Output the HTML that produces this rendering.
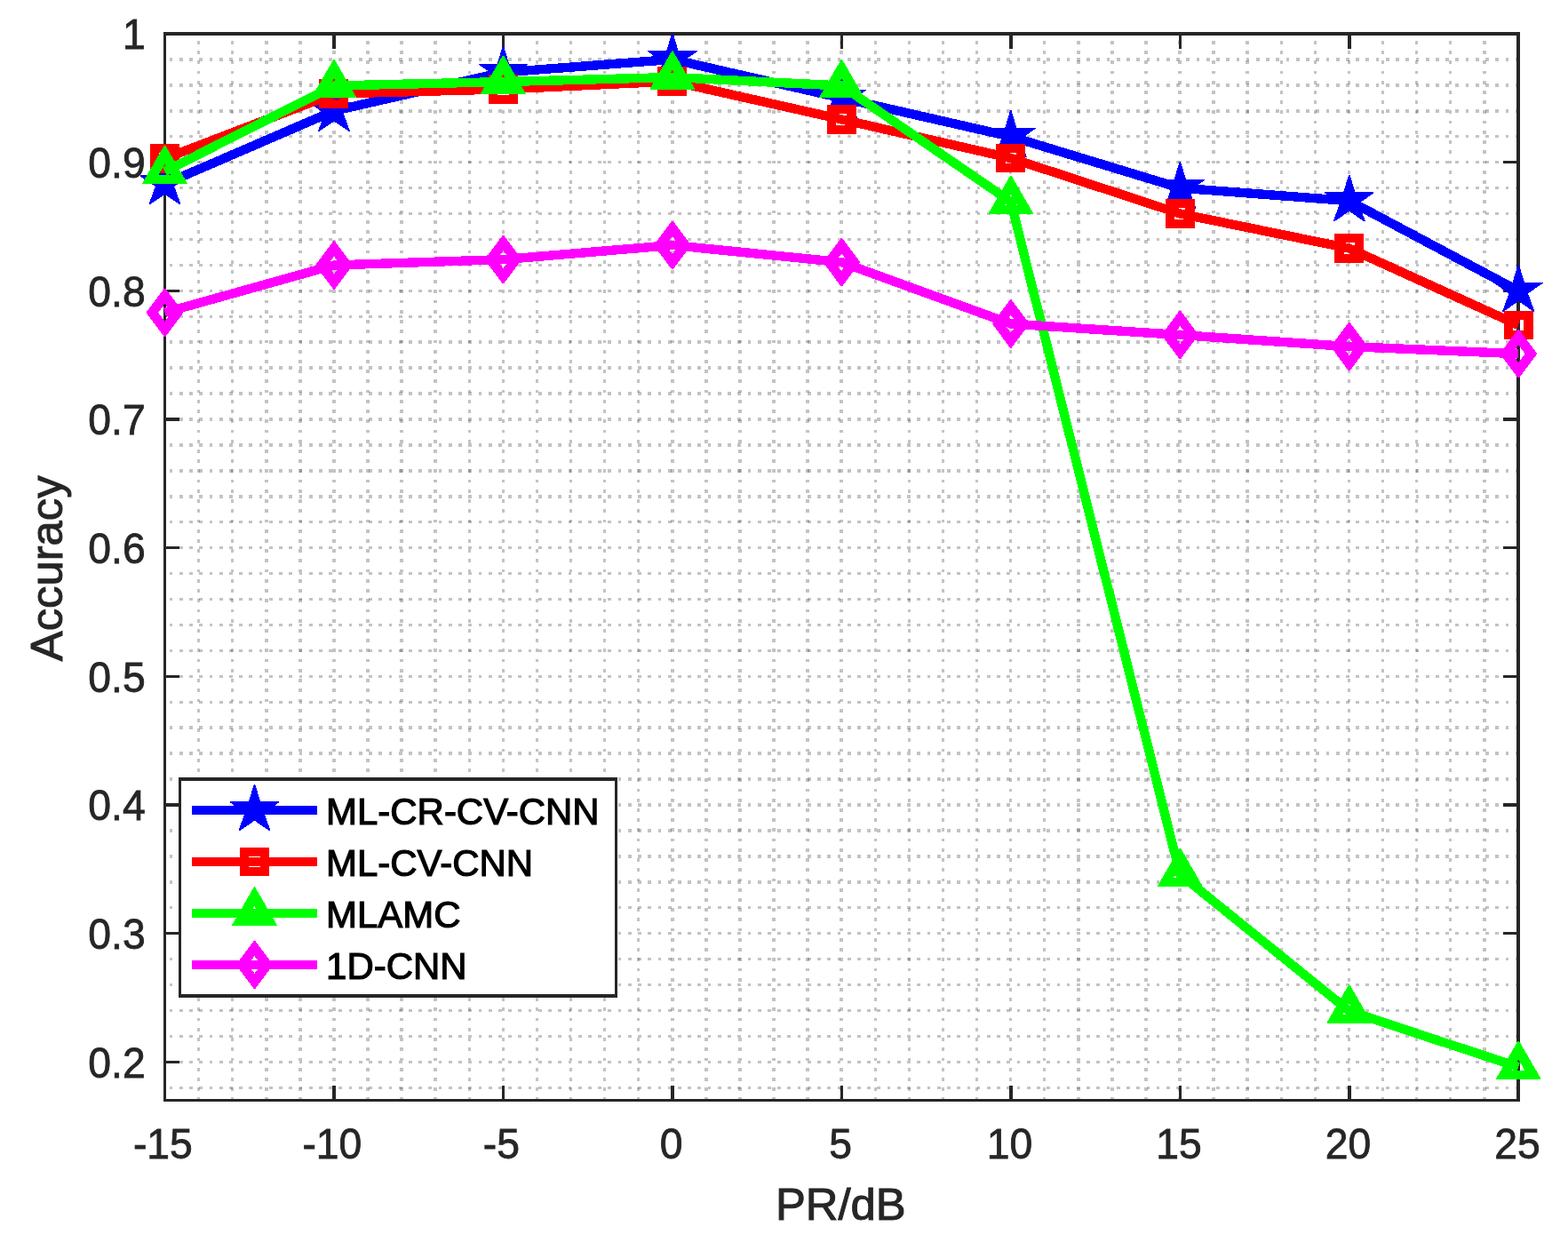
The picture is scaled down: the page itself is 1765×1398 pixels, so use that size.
<!DOCTYPE html>
<html lang="en"><head><meta charset="utf-8"><title>Accuracy vs PR/dB</title>
<style>
html,body{margin:0;padding:0;background:#fff;}
body{width:1765px;height:1398px;overflow:hidden;}
svg{display:block;}
text{font-family:"Liberation Sans",sans-serif;}
text{stroke-linejoin:miter;}
.tick{font-size:46.3px;fill:#262626;stroke:#262626;stroke-width:0.8px;}
.lab{font-size:50.8px;fill:#262626;stroke:#262626;stroke-width:1.0px;}
.leg{font-size:41.95px;fill:#000;stroke:#000;stroke-width:1.2px;}
</style></head><body>
<svg width="1765" height="1398" viewBox="0 0 1765 1398" role="img" aria-label="Accuracy versus PR/dB line chart">
<rect x="0" y="0" width="1765" height="1398" fill="#ffffff"/>
<g stroke="#262626" stroke-opacity="0.28" stroke-width="3.5" fill="none" shape-rendering="crispEdges" stroke-dasharray="3.77 7.4525">
<path d="M223.58 45.90V1238.50M261.67 45.90V1238.50M299.75 45.90V1238.50M337.84 45.90V1238.50M375.92 45.90V1238.50M414.01 45.90V1238.50M452.09 45.90V1238.50M490.18 45.90V1238.50M528.26 45.90V1238.50M566.35 45.90V1238.50M604.43 45.90V1238.50M642.51 45.90V1238.50M680.60 45.90V1238.50M718.68 45.90V1238.50M756.77 45.90V1238.50M794.85 45.90V1238.50M832.94 45.90V1238.50M871.02 45.90V1238.50M909.11 45.90V1238.50M947.19 45.90V1238.50M985.27 45.90V1238.50M1023.36 45.90V1238.50M1061.44 45.90V1238.50M1099.53 45.90V1238.50M1137.61 45.90V1238.50M1175.70 45.90V1238.50M1213.78 45.90V1238.50M1251.87 45.90V1238.50M1289.95 45.90V1238.50M1328.03 45.90V1238.50M1366.12 45.90V1238.50M1404.20 45.90V1238.50M1442.29 45.90V1238.50M1480.37 45.90V1238.50M1518.46 45.90V1238.50M1556.54 45.90V1238.50M1594.63 45.90V1238.50M1632.71 45.90V1238.50M1670.80 45.90V1238.50"/>
<path d="M190.70 66.93H1709.25M190.70 95.87H1709.25M190.70 124.80H1709.25M190.70 153.73H1709.25M190.70 182.67H1709.25M190.70 211.60H1709.25M190.70 240.54H1709.25M190.70 269.47H1709.25M190.70 298.40H1709.25M190.70 327.34H1709.25M190.70 356.27H1709.25M190.70 385.20H1709.25M190.70 414.14H1709.25M190.70 443.07H1709.25M190.70 472.00H1709.25M190.70 500.94H1709.25M190.70 529.87H1709.25M190.70 558.80H1709.25M190.70 587.74H1709.25M190.70 616.67H1709.25M190.70 645.61H1709.25M190.70 674.54H1709.25M190.70 703.47H1709.25M190.70 732.41H1709.25M190.70 761.34H1709.25M190.70 790.27H1709.25M190.70 819.21H1709.25M190.70 848.14H1709.25M190.70 877.07H1709.25M190.70 906.01H1709.25M190.70 934.94H1709.25M190.70 963.88H1709.25M190.70 992.81H1709.25M190.70 1021.74H1709.25M190.70 1050.68H1709.25M190.70 1079.61H1709.25M190.70 1108.54H1709.25M190.70 1137.48H1709.25M190.70 1166.41H1709.25M190.70 1195.34H1709.25M190.70 1224.28H1709.25"/>
</g>
<g fill="#262626" shape-rendering="crispEdges">
<rect x="184" y="36" width="3" height="1204"/>
<rect x="1707" y="36" width="4" height="1204"/>
<rect x="184" y="36" width="1527" height="4"/>
<rect x="184" y="1237" width="1527" height="3"/>
<rect x="374" y="40" width="4" height="15"/>
<rect x="374" y="1222" width="4" height="15"/>
<rect x="565" y="40" width="3" height="15"/>
<rect x="565" y="1222" width="3" height="15"/>
<rect x="755" y="40" width="4" height="15"/>
<rect x="755" y="1222" width="4" height="15"/>
<rect x="946" y="40" width="3" height="15"/>
<rect x="946" y="1222" width="3" height="15"/>
<rect x="1136" y="40" width="4" height="15"/>
<rect x="1136" y="1222" width="4" height="15"/>
<rect x="1327" y="40" width="3" height="15"/>
<rect x="1327" y="1222" width="3" height="15"/>
<rect x="1517" y="40" width="4" height="15"/>
<rect x="1517" y="1222" width="4" height="15"/>
<rect x="187" y="1194" width="15" height="3"/>
<rect x="1692" y="1194" width="15" height="3"/>
<rect x="187" y="1049" width="15" height="3"/>
<rect x="1692" y="1049" width="15" height="3"/>
<rect x="187" y="904" width="15" height="4"/>
<rect x="1692" y="904" width="15" height="4"/>
<rect x="187" y="760" width="15" height="3"/>
<rect x="1692" y="760" width="15" height="3"/>
<rect x="187" y="615" width="15" height="3"/>
<rect x="1692" y="615" width="15" height="3"/>
<rect x="187" y="470" width="15" height="4"/>
<rect x="1692" y="470" width="15" height="4"/>
<rect x="187" y="326" width="15" height="3"/>
<rect x="1692" y="326" width="15" height="3"/>
<rect x="187" y="181" width="15" height="3"/>
<rect x="1692" y="181" width="15" height="3"/>
</g>
<g shape-rendering="crispEdges">
<polyline points="185.50,207.10 375.97,124.80 566.44,81.40 756.91,66.90 947.38,110.30 1137.84,153.75 1328.31,211.60 1518.78,226.10 1709.25,327.40" fill="none" stroke="#0000ff" stroke-width="10.4" stroke-linejoin="round" stroke-linecap="butt"/>
<path d="M184.80 177.70 L186.20 177.70 L192.10 197.30 L213.20 197.30 L213.20 198.40 L196.30 210.00 L203.60 230.20 L202.10 230.20 L185.50 218.90 L168.90 230.20 L167.40 230.20 L174.70 210.00 L157.80 198.40 L157.80 197.30 L178.90 197.30 Z" fill="#0000ff" fill-rule="evenodd"/>
<path d="M375.27 95.40 L376.67 95.40 L382.57 115.00 L403.67 115.00 L403.67 116.10 L386.77 127.70 L394.07 147.90 L392.57 147.90 L375.97 136.60 L359.37 147.90 L357.87 147.90 L365.17 127.70 L348.27 116.10 L348.27 115.00 L369.37 115.00 Z" fill="#0000ff" fill-rule="evenodd"/>
<path d="M565.74 52.00 L567.14 52.00 L573.04 71.60 L594.14 71.60 L594.14 72.70 L577.24 84.30 L584.54 104.50 L583.04 104.50 L566.44 93.20 L549.84 104.50 L548.34 104.50 L555.64 84.30 L538.74 72.70 L538.74 71.60 L559.84 71.60 Z" fill="#0000ff" fill-rule="evenodd"/>
<path d="M756.21 37.50 L757.61 37.50 L763.51 57.10 L784.61 57.10 L784.61 58.20 L767.71 69.80 L775.01 90.00 L773.51 90.00 L756.91 78.70 L740.31 90.00 L738.81 90.00 L746.11 69.80 L729.21 58.20 L729.21 57.10 L750.31 57.10 Z" fill="#0000ff" fill-rule="evenodd"/>
<path d="M946.67 80.90 L948.08 80.90 L953.98 100.50 L975.08 100.50 L975.08 101.60 L958.17 113.20 L965.48 133.40 L963.98 133.40 L947.38 122.10 L930.77 133.40 L929.27 133.40 L936.58 113.20 L919.67 101.60 L919.67 100.50 L940.77 100.50 Z" fill="#0000ff" fill-rule="evenodd"/>
<path d="M1137.14 124.35 L1138.54 124.35 L1144.44 143.95 L1165.54 143.95 L1165.54 145.05 L1148.64 156.65 L1155.94 176.85 L1154.44 176.85 L1137.84 165.55 L1121.24 176.85 L1119.74 176.85 L1127.04 156.65 L1110.14 145.05 L1110.14 143.95 L1131.24 143.95 Z" fill="#0000ff" fill-rule="evenodd"/>
<path d="M1327.61 182.20 L1329.01 182.20 L1334.91 201.80 L1356.01 201.80 L1356.01 202.90 L1339.11 214.50 L1346.41 234.70 L1344.91 234.70 L1328.31 223.40 L1311.71 234.70 L1310.21 234.70 L1317.51 214.50 L1300.61 202.90 L1300.61 201.80 L1321.71 201.80 Z" fill="#0000ff" fill-rule="evenodd"/>
<path d="M1518.08 196.70 L1519.48 196.70 L1525.38 216.30 L1546.48 216.30 L1546.48 217.40 L1529.58 229.00 L1536.88 249.20 L1535.38 249.20 L1518.78 237.90 L1502.18 249.20 L1500.68 249.20 L1507.98 229.00 L1491.08 217.40 L1491.08 216.30 L1512.18 216.30 Z" fill="#0000ff" fill-rule="evenodd"/>
<path d="M1708.55 298.00 L1709.95 298.00 L1715.85 317.60 L1736.95 317.60 L1736.95 318.70 L1720.05 330.30 L1727.35 350.50 L1725.85 350.50 L1709.25 339.20 L1692.65 350.50 L1691.15 350.50 L1698.45 330.30 L1681.55 318.70 L1681.55 317.60 L1702.65 317.60 Z" fill="#0000ff" fill-rule="evenodd"/>
<polyline points="185.50,178.50 375.97,105.50 566.44,100.45 756.91,91.50 947.38,134.40 1137.84,178.00 1328.31,240.50 1518.78,279.55 1709.25,366.00" fill="none" stroke="#ff0000" stroke-width="10.4" stroke-linejoin="round" stroke-linecap="butt"/>
<path d="M169.00 162.05 L202.00 162.05 L202.00 194.95 L169.00 194.95 Z M179.40 172.40 L179.40 184.60 L191.60 184.60 L191.60 172.40 Z" fill="#ff0000" fill-rule="evenodd"/>
<path d="M359.47 89.05 L392.47 89.05 L392.47 121.95 L359.47 121.95 Z M369.87 99.40 L369.87 111.60 L382.07 111.60 L382.07 99.40 Z" fill="#ff0000" fill-rule="evenodd"/>
<path d="M549.94 84.00 L582.94 84.00 L582.94 116.90 L549.94 116.90 Z M560.34 94.35 L560.34 106.55 L572.54 106.55 L572.54 94.35 Z" fill="#ff0000" fill-rule="evenodd"/>
<path d="M740.41 75.05 L773.41 75.05 L773.41 107.95 L740.41 107.95 Z M750.81 85.40 L750.81 97.60 L763.01 97.60 L763.01 85.40 Z" fill="#ff0000" fill-rule="evenodd"/>
<path d="M930.88 117.95 L963.88 117.95 L963.88 150.85 L930.88 150.85 Z M941.27 128.30 L941.27 140.50 L953.48 140.50 L953.48 128.30 Z" fill="#ff0000" fill-rule="evenodd"/>
<path d="M1121.34 161.55 L1154.34 161.55 L1154.34 194.45 L1121.34 194.45 Z M1131.74 171.90 L1131.74 184.10 L1143.94 184.10 L1143.94 171.90 Z" fill="#ff0000" fill-rule="evenodd"/>
<path d="M1311.81 224.05 L1344.81 224.05 L1344.81 256.95 L1311.81 256.95 Z M1322.21 234.40 L1322.21 246.60 L1334.41 246.60 L1334.41 234.40 Z" fill="#ff0000" fill-rule="evenodd"/>
<path d="M1502.28 263.10 L1535.28 263.10 L1535.28 296.00 L1502.28 296.00 Z M1512.68 273.45 L1512.68 285.65 L1524.88 285.65 L1524.88 273.45 Z" fill="#ff0000" fill-rule="evenodd"/>
<path d="M1692.75 349.55 L1725.75 349.55 L1725.75 382.45 L1692.75 382.45 Z M1703.15 359.90 L1703.15 372.10 L1715.35 372.10 L1715.35 359.90 Z" fill="#ff0000" fill-rule="evenodd"/>
<polyline points="185.50,193.10 375.97,96.50 566.44,92.10 756.91,87.00 947.38,96.50 1137.84,227.10 1328.31,984.10 1518.78,1138.00 1709.25,1201.10" fill="none" stroke="#00ff00" stroke-width="10.4" stroke-linejoin="round" stroke-linecap="butt"/>
<path d="M184.90 163.50 L186.10 163.50 L210.60 205.80 L210.60 207.00 L160.40 207.00 L160.40 205.80 Z M185.50 184.90 L178.50 196.80 L192.50 196.80 Z" fill="#00ff00" fill-rule="evenodd"/>
<path d="M375.37 66.90 L376.57 66.90 L401.07 109.20 L401.07 110.40 L350.87 110.40 L350.87 109.20 Z M375.97 88.30 L368.97 100.20 L382.97 100.20 Z" fill="#00ff00" fill-rule="evenodd"/>
<path d="M565.84 62.50 L567.04 62.50 L591.54 104.80 L591.54 106.00 L541.34 106.00 L541.34 104.80 Z M566.44 83.90 L559.44 95.80 L573.44 95.80 Z" fill="#00ff00" fill-rule="evenodd"/>
<path d="M756.31 57.40 L757.51 57.40 L782.01 99.70 L782.01 100.90 L731.81 100.90 L731.81 99.70 Z M756.91 78.80 L749.91 90.70 L763.91 90.70 Z" fill="#00ff00" fill-rule="evenodd"/>
<path d="M946.77 66.90 L947.98 66.90 L972.48 109.20 L972.48 110.40 L922.27 110.40 L922.27 109.20 Z M947.38 88.30 L940.38 100.20 L954.38 100.20 Z" fill="#00ff00" fill-rule="evenodd"/>
<path d="M1137.24 197.50 L1138.44 197.50 L1162.94 239.80 L1162.94 241.00 L1112.74 241.00 L1112.74 239.80 Z M1137.84 218.90 L1130.84 230.80 L1144.84 230.80 Z" fill="#00ff00" fill-rule="evenodd"/>
<path d="M1327.71 954.50 L1328.91 954.50 L1353.41 996.80 L1353.41 998.00 L1303.21 998.00 L1303.21 996.80 Z M1328.31 975.90 L1321.31 987.80 L1335.31 987.80 Z" fill="#00ff00" fill-rule="evenodd"/>
<path d="M1518.18 1108.40 L1519.38 1108.40 L1543.88 1150.70 L1543.88 1151.90 L1493.68 1151.90 L1493.68 1150.70 Z M1518.78 1129.80 L1511.78 1141.70 L1525.78 1141.70 Z" fill="#00ff00" fill-rule="evenodd"/>
<path d="M1708.65 1171.50 L1709.85 1171.50 L1734.35 1213.80 L1734.35 1215.00 L1684.15 1215.00 L1684.15 1213.80 Z M1709.25 1192.90 L1702.25 1204.80 L1716.25 1204.80 Z" fill="#00ff00" fill-rule="evenodd"/>
<polyline points="185.50,351.80 375.97,298.50 566.44,292.10 756.91,276.00 947.38,295.20 1137.84,364.50 1328.31,377.00 1518.78,390.10 1709.25,398.20" fill="none" stroke="#ff00ff" stroke-width="10.4" stroke-linejoin="round" stroke-linecap="butt"/>
<path d="M184.80 324.60 L186.20 324.60 L206.10 351.20 L206.10 352.40 L186.20 379.00 L184.80 379.00 L164.90 352.40 L164.90 351.20 Z M185.50 342.00 L178.10 351.80 L185.50 361.60 L192.90 351.80 Z" fill="#ff00ff" fill-rule="evenodd"/>
<path d="M375.27 271.30 L376.67 271.30 L396.57 297.90 L396.57 299.10 L376.67 325.70 L375.27 325.70 L355.37 299.10 L355.37 297.90 Z M375.97 288.70 L368.57 298.50 L375.97 308.30 L383.37 298.50 Z" fill="#ff00ff" fill-rule="evenodd"/>
<path d="M565.74 264.90 L567.14 264.90 L587.04 291.50 L587.04 292.70 L567.14 319.30 L565.74 319.30 L545.84 292.70 L545.84 291.50 Z M566.44 282.30 L559.04 292.10 L566.44 301.90 L573.84 292.10 Z" fill="#ff00ff" fill-rule="evenodd"/>
<path d="M756.21 248.80 L757.61 248.80 L777.51 275.40 L777.51 276.60 L757.61 303.20 L756.21 303.20 L736.31 276.60 L736.31 275.40 Z M756.91 266.20 L749.51 276.00 L756.91 285.80 L764.31 276.00 Z" fill="#ff00ff" fill-rule="evenodd"/>
<path d="M946.67 268.00 L948.08 268.00 L967.98 294.60 L967.98 295.80 L948.08 322.40 L946.67 322.40 L926.77 295.80 L926.77 294.60 Z M947.38 285.40 L939.98 295.20 L947.38 305.00 L954.77 295.20 Z" fill="#ff00ff" fill-rule="evenodd"/>
<path d="M1137.14 337.30 L1138.54 337.30 L1158.44 363.90 L1158.44 365.10 L1138.54 391.70 L1137.14 391.70 L1117.24 365.10 L1117.24 363.90 Z M1137.84 354.70 L1130.44 364.50 L1137.84 374.30 L1145.24 364.50 Z" fill="#ff00ff" fill-rule="evenodd"/>
<path d="M1327.61 349.80 L1329.01 349.80 L1348.91 376.40 L1348.91 377.60 L1329.01 404.20 L1327.61 404.20 L1307.71 377.60 L1307.71 376.40 Z M1328.31 367.20 L1320.91 377.00 L1328.31 386.80 L1335.71 377.00 Z" fill="#ff00ff" fill-rule="evenodd"/>
<path d="M1518.08 362.90 L1519.48 362.90 L1539.38 389.50 L1539.38 390.70 L1519.48 417.30 L1518.08 417.30 L1498.18 390.70 L1498.18 389.50 Z M1518.78 380.30 L1511.38 390.10 L1518.78 399.90 L1526.18 390.10 Z" fill="#ff00ff" fill-rule="evenodd"/>
<path d="M1708.55 371.00 L1709.95 371.00 L1729.85 397.60 L1729.85 398.80 L1709.95 425.40 L1708.55 425.40 L1688.65 398.80 L1688.65 397.60 Z M1709.25 388.40 L1701.85 398.20 L1709.25 408.00 L1716.65 398.20 Z" fill="#ff00ff" fill-rule="evenodd"/>
</g>
<g shape-rendering="crispEdges">
<rect x="201" y="875" width="494" height="248" fill="#262626"/>
<rect x="204" y="879" width="488" height="240" fill="#ffffff"/>
<rect x="216" y="907" width="141" height="10" fill="#0000ff"/>
<path d="M285.80 882.60 L287.20 882.60 L293.10 902.20 L314.20 902.20 L314.20 903.30 L297.30 914.90 L304.60 935.10 L303.10 935.10 L286.50 923.80 L269.90 935.10 L268.40 935.10 L275.70 914.90 L258.80 903.30 L258.80 902.20 L279.90 902.20 Z" fill="#0000ff" fill-rule="evenodd"/>
<rect x="216" y="965" width="141" height="10" fill="#ff0000"/>
<path d="M270.00 953.55 L303.00 953.55 L303.00 986.45 L270.00 986.45 Z M280.40 963.90 L280.40 976.10 L292.60 976.10 L292.60 963.90 Z" fill="#ff0000" fill-rule="evenodd"/>
<rect x="216" y="1023" width="141" height="10" fill="#00ff00"/>
<path d="M285.90 998.40 L287.10 998.40 L311.60 1040.70 L311.60 1041.90 L261.40 1041.90 L261.40 1040.70 Z M286.50 1019.80 L279.50 1031.70 L293.50 1031.70 Z" fill="#00ff00" fill-rule="evenodd"/>
<rect x="216" y="1081" width="141" height="10" fill="#ff00ff"/>
<path d="M285.80 1058.80 L287.20 1058.80 L307.10 1085.40 L307.10 1086.60 L287.20 1113.20 L285.80 1113.20 L265.90 1086.60 L265.90 1085.40 Z M286.50 1076.20 L279.10 1086.00 L286.50 1095.80 L293.90 1086.00 Z" fill="#ff00ff" fill-rule="evenodd"/>
</g>
<text class="leg" transform="translate(367.10 927.80)" text-anchor="start">ML-CR-CV-CNN</text>
<text class="leg" transform="translate(367.10 985.90)" text-anchor="start">ML-CV-CNN</text>
<text class="leg" transform="translate(367.10 1043.85)" text-anchor="start">MLAMC</text>
<text class="leg" transform="translate(367.10 1101.80)" text-anchor="start">1D-CNN</text>
<text class="tick" transform="translate(183.40 1304.20) scale(1 1.03)" text-anchor="middle">-15</text>
<text class="tick" transform="translate(373.87 1304.20) scale(1 1.03)" text-anchor="middle">-10</text>
<text class="tick" transform="translate(564.34 1304.20) scale(1 1.03)" text-anchor="middle">-5</text>
<text class="tick" transform="translate(755.61 1304.20) scale(1 1.03)" text-anchor="middle">0</text>
<text class="tick" transform="translate(946.08 1304.20) scale(1 1.03)" text-anchor="middle">5</text>
<text class="tick" transform="translate(1136.54 1304.20) scale(1 1.03)" text-anchor="middle">10</text>
<text class="tick" transform="translate(1327.01 1304.20) scale(1 1.03)" text-anchor="middle">15</text>
<text class="tick" transform="translate(1517.48 1304.20) scale(1 1.03)" text-anchor="middle">20</text>
<text class="tick" transform="translate(1707.95 1304.20) scale(1 1.03)" text-anchor="middle">25</text>
<text class="tick" transform="translate(163.70 1212.64) scale(1 1.03)" text-anchor="end">0.2</text>
<text class="tick" transform="translate(163.70 1067.98) scale(1 1.03)" text-anchor="end">0.3</text>
<text class="tick" transform="translate(163.70 923.31) scale(1 1.03)" text-anchor="end">0.4</text>
<text class="tick" transform="translate(163.70 778.64) scale(1 1.03)" text-anchor="end">0.5</text>
<text class="tick" transform="translate(163.70 633.97) scale(1 1.03)" text-anchor="end">0.6</text>
<text class="tick" transform="translate(163.70 489.30) scale(1 1.03)" text-anchor="end">0.7</text>
<text class="tick" transform="translate(163.70 344.64) scale(1 1.03)" text-anchor="end">0.8</text>
<text class="tick" transform="translate(163.70 199.97) scale(1 1.03)" text-anchor="end">0.9</text>
<text class="tick" transform="translate(163.70 55.30) scale(1 1.03)" text-anchor="end">1</text>
<text class="lab" transform="translate(946.30 1372.50)" text-anchor="middle">PR/dB</text>
<text class="lab" transform="translate(70.00 639.80) rotate(-90)" text-anchor="middle">Accuracy</text>
</svg>
</body></html>
